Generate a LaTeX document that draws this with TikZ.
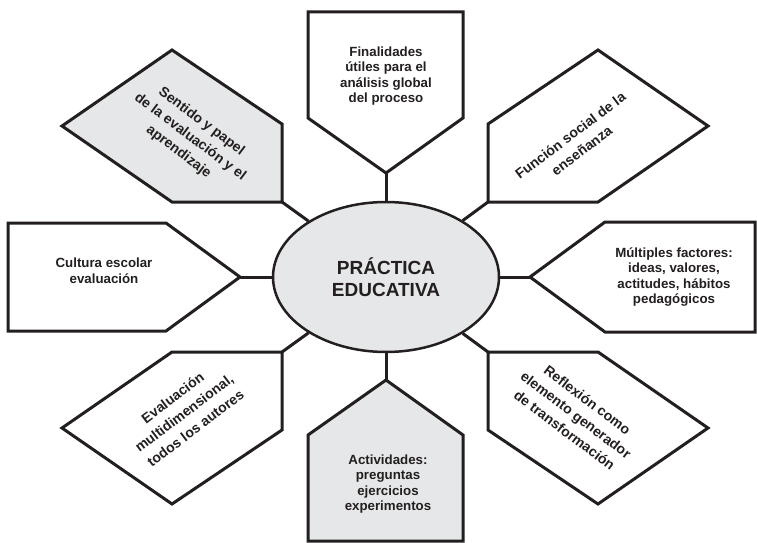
\documentclass[tikz,border=0pt]{standalone}
\usepackage{fontspec}
\setmainfont{Liberation Sans}
\usetikzlibrary{shapes.geometric}
\definecolor{panel}{HTML}{E6E7E8}
\definecolor{ink}{HTML}{231F20}

\begin{document}
\begin{tikzpicture}[x=1pt,y=1pt, line join=miter,
  plate/.style={draw=ink, line width=3pt, fill=white},
  gplate/.style={plate, fill=panel},
  edge/.style={draw=ink, line width=3pt},
  lbl/.style={text=ink, font=\fontsize{13.3}{15.6}\selectfont\bfseries, align=center, inner sep=0pt},
  tlbl/.style={lbl, font=\fontsize{14}{19}\selectfont\bfseries, rotate=#1},
]
\useasboundingbox (0,0) rectangle (757,542);
\node[ellipse, draw=ink, line width=2.5pt, fill=panel, minimum width=226pt, minimum height=150pt,
  text=ink, font=\fontsize{19}{22}\selectfont\bfseries, align=center] (prac) at (386,265) {PRÁCTICA\\EDUCATIVA};

\draw[plate] (308,530) -- (463,530) -- (463,424) -- (386,369) coordinate (finTip) -- (308,424) -- cycle;
\draw[gplate] (386,162) coordinate (actTip) -- (463,107) -- (463,1) -- (308,1) -- (308,107) -- cycle;
\draw[plate] (8,319) -- (166,319) -- (240,265) coordinate (culTip) -- (166,211) -- (8,211) -- cycle;
\draw[plate] (530,265) coordinate (mulTip) -- (605,320) -- (755,320) -- (755,210) -- (605,210) -- cycle;
\draw[gplate] (282,340) coordinate (senTip) -- (282,418) -- (172,492) -- (62,416) -- (172,340) -- cycle;
\draw[plate] (488,340) coordinate (funTip) -- (488,418) -- (598,492) -- (708,416) -- (598,340) -- cycle;
\draw[plate] (282,190) coordinate (evaTip) -- (282,112) -- (172,38) -- (62,114) -- (172,190) -- cycle;
\draw[plate] (488,190) coordinate (refTip) -- (488,112) -- (598,38) -- (708,114) -- (598,190) -- cycle;

\node[lbl] (finTxt) at (386,466) {Finalidades\\útiles para el\\análisis global\\del proceso};
\node[lbl] (actTxt) at (388,58) {Actividades:\\preguntas\\ejercicios\\experimentos};
\node[lbl] (culTxt) at (104,271) {Cultura escolar\\evaluación};
\node[lbl] (mulTxt) at (674,265) {Múltiples factores:\\ideas, valores,\\actitudes, hábitos\\pedagógicos};
\node[tlbl=-37] (senTxt) at (190,405) {Sentido y papel\\de la evaluación y el\\aprendizaje};
\node[tlbl=37] (funTxt) at (576,399) {Función social de la\\enseñanza};
\node[tlbl=37] (evaTxt) at (184,129) {Evaluación\\multidimensional,\\todos los autores};
\node[tlbl=-37] (refTxt) at (576,127) {Reflexión como\\elemento generador\\de transformación};

\foreach \t in {fin,act,cul,mul,sen,fun,eva,ref}
  \draw[edge] (\t Tip) -- (prac);
\end{tikzpicture}
\end{document}
